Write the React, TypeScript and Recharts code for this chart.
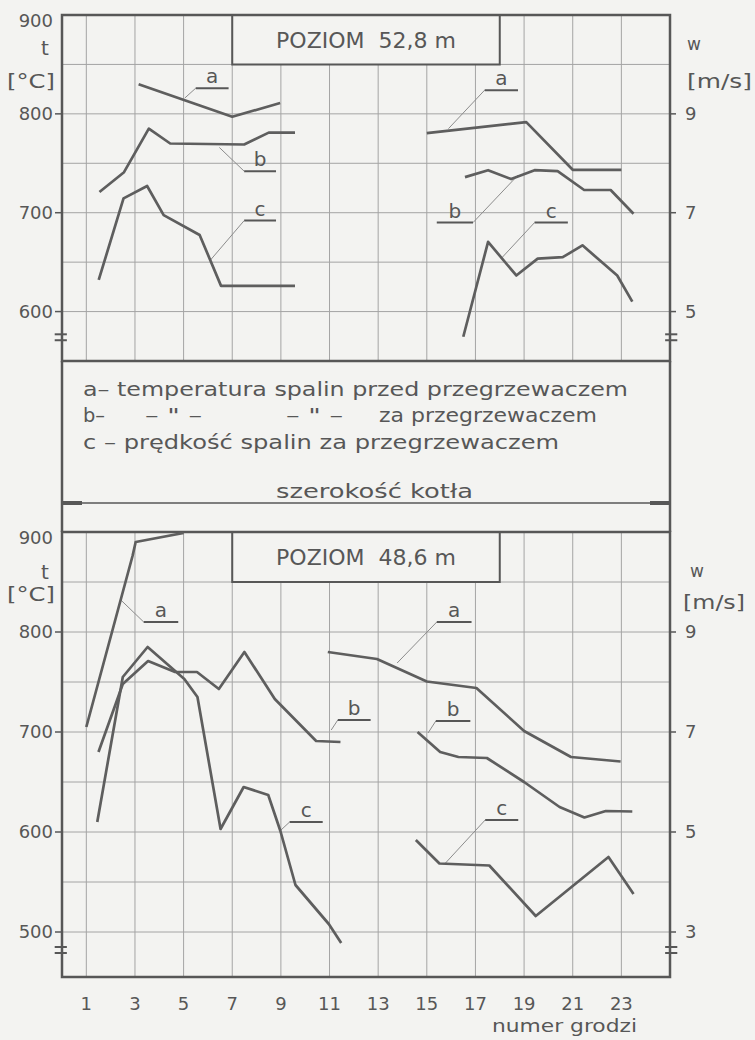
import React from "react";
import {
  CartesianGrid,
  Line,
  LineChart,
  ReferenceArea,
  ReferenceDot,
  ReferenceLine,
  XAxis,
  YAxis,
} from "recharts";

type Pt = [number, number];

const BG = "#f3f3f1";
const INK = "#575757";
const CURVE = "#5e5e5e";
const GRID = "#a4a4a4";
const FONT = "'DejaVu Sans', sans-serif";

const X_DOMAIN: [number, number] = [0, 25];
const X_TICKS = [1, 3, 5, 7, 9, 11, 13, 15, 17, 19, 21, 23];

// poziom 52,8 m: a, b in °C (left axis), c in m/s (right axis)
const TOP_T_TICKS = [600, 650, 700, 750, 800, 850, 900];
const TOP_W_TICKS = [5, 7, 9];
const topA1: Pt[] = [[3.15, 830], [7.0, 797], [8.97, 811]];
const topB1: Pt[] = [[1.54, 721], [2.55, 741], [3.57, 785], [4.45, 770], [7.49, 769], [8.5, 781], [9.58, 781]];
const topC1: Pt[] = [[1.51, 5.64], [2.53, 7.29], [3.5, 7.54], [4.18, 6.95], [5.66, 6.55], [6.54, 5.52], [9.58, 5.52]];
const topA2: Pt[] = [[15.0, 780.5], [19.09, 791.6], [21.0, 743.4], [23.0, 743.4]];
const topB2: Pt[] = [[16.57, 736], [17.52, 743], [18.47, 734], [19.43, 743], [20.38, 742], [21.47, 723], [22.56, 723], [23.5, 699]];
const topC2: Pt[] = [[16.5, 4.49], [17.52, 6.41], [18.68, 5.73], [19.56, 6.07], [20.59, 6.1], [21.4, 6.34], [22.83, 5.73], [23.45, 5.2]];

// poziom 48,6 m
const BOT_T_TICKS = [500, 550, 600, 650, 700, 750, 800, 850, 900];
const BOT_W_TICKS = [3, 5, 7, 9];
const botA1: Pt[] = [[1.0, 705], [2.9, 876], [3.03, 890], [5.0, 899]];
const botB1: Pt[] = [[1.5, 680], [2.5, 748], [3.54, 771], [4.65, 760], [5.55, 760], [6.45, 743], [7.5, 780], [8.75, 733], [10.45, 691], [11.45, 690]];
const botC1: Pt[] = [[1.45, 5.2], [2.5, 8.1], [3.52, 8.7], [5.03, 8.06], [5.57, 7.7], [6.52, 5.06], [7.47, 5.9], [8.48, 5.74], [8.98, 5.02], [9.6, 3.94], [10.97, 3.16], [11.48, 2.78]];
const botA2: Pt[] = [[10.93, 780], [12.95, 773], [15.0, 750.5], [17.04, 744], [19.0, 701], [20.93, 675], [22.97, 670.5]];
const botB2: Pt[] = [[14.62, 700], [15.55, 680], [16.3, 675], [17.47, 674], [19.0, 650], [20.46, 625], [21.48, 614.5], [22.36, 621], [23.45, 620.5]];
const botC2: Pt[] = [[14.55, 4.84], [15.52, 4.37], [17.57, 4.33], [19.48, 3.32], [22.47, 4.5], [23.5, 3.76]];

type Note = { label: string; lead: [Pt, Pt]; under: [number, number, number] };

const topNotes: Note[] = [
  { label: "a", lead: [[5.05, 816], [5.5, 826]], under: [5.5, 6.85, 826] },
  { label: "b", lead: [[6.47, 766], [7.49, 742]], under: [7.49, 8.8, 742] },
  { label: "c", lead: [[6.1, 652], [7.49, 692]], under: [7.49, 8.8, 692] },
  { label: "a", lead: [[15.89, 785], [17.38, 824]], under: [17.38, 18.75, 824] },
  { label: "b", lead: [[16.9, 690], [18.75, 738]], under: [15.41, 16.9, 690] },
  { label: "c", lead: [[18.07, 654], [19.43, 690]], under: [19.43, 20.8, 690] },
];

const botNotes: Note[] = [
  { label: "a", lead: [[2.42, 832], [3.36, 810]], under: [3.36, 4.78, 810] },
  { label: "b", lead: [[11.07, 702], [11.34, 712]], under: [11.34, 12.69, 712] },
  { label: "c", lead: [[8.96, 601], [9.36, 610]], under: [9.36, 10.72, 610] },
  { label: "a", lead: [[13.78, 769], [15.41, 810]], under: [15.41, 16.84, 810] },
  { label: "b", lead: [[15.05, 699], [15.37, 711]], under: [15.37, 16.79, 711] },
  { label: "c", lead: [[15.77, 569], [17.4, 612]], under: [17.4, 18.76, 612] },
];

const LEGEND = [
  { text: "a– temperatura spalin przed przegrzewaczem", x: 83, y: 396, w: 545 },
  { text: "b–", x: 83, y: 422, w: 22 },
  { text: "– \" –", x: 145, y: 422, w: 57 },
  { text: "– \" –", x: 286, y: 422, w: 57 },
  { text: "za przegrzewaczem", x: 379, y: 422, w: 218 },
  { text: "c – prędkość spalin za przegrzewaczem", x: 83, y: 449, w: 476 },
  { text: "szerokość kotła", x: 276, y: 498, w: 197 },
];

const toXY = (pts: Pt[]) => pts.map(([x, y]) => ({ x, y }));

function EmptyTick() {
  return <g />;
}

function LeftTick(props: any) {
  const { x, y, payload } = props;
  const v = payload.value as number;
  if (v % 100 !== 0) return <g />;
  const top = v === 900;
  return (
    <g>
      {!top && <line x1={x - 7} x2={x} y1={y} y2={y} stroke={INK} strokeWidth={1.5} />}
      <text x={x - 9} y={y + (top ? 6 : 0)} dy="0.36em" textAnchor="end" fontSize={18} fill={INK} fontFamily={FONT}>
        {v}
      </text>
    </g>
  );
}

function RightTick(props: any) {
  const { x, y, payload } = props;
  return (
    <g>
      <line x1={x} x2={x + 6} y1={y} y2={y} stroke={INK} strokeWidth={1.5} />
      <text x={x + 15} y={y} dy="0.36em" textAnchor="start" fontSize={18} fill={INK} fontFamily={FONT}>
        {payload.value}
      </text>
    </g>
  );
}

type Series = { pts: Pt[]; axis: "t" | "w" };

type PanelProps = {
  title: string;
  height: number;
  marginTop: number;
  marginBottom: number;
  tDomain: [number, number];
  wDomain: [number, number];
  tTicks: number[];
  wTicks: number[];
  series: Series[];
  notes: Note[];
  breaks: number[];
  showX: boolean;
};

function Panel(p: PanelProps) {
  return (
    <LineChart
      width={755}
      height={p.height}
      margin={{ top: p.marginTop, right: 0, bottom: p.marginBottom, left: 0 }}
    >
      <CartesianGrid stroke={GRID} strokeWidth={1} />
      <XAxis
        dataKey="x"
        type="number"
        domain={X_DOMAIN}
        ticks={X_TICKS}
        interval={0}
        allowDataOverflow
        height={p.showX ? 63 : 1}
        tick={p.showX ? { fontSize: 18, fill: INK, fontFamily: FONT } : EmptyTick}
        tickSize={0}
        tickMargin={20}
        tickLine={false}
        axisLine={false}
      />
      <YAxis
        type="number"
        domain={p.tDomain}
        ticks={p.tTicks}
        interval={0}
        allowDataOverflow
        width={62}
        tickSize={0}
        tickMargin={0}
        tickLine={false}
        axisLine={false}
        tick={LeftTick}
      />
      <YAxis
        yAxisId="w"
        orientation="right"
        type="number"
        domain={p.wDomain}
        ticks={p.wTicks}
        interval={0}
        allowDataOverflow
        width={85}
        tickSize={0}
        tickMargin={0}
        tickLine={false}
        axisLine={false}
        tick={RightTick}
      />
      <ReferenceArea
        x1={7}
        x2={18}
        y1={850}
        y2={900}
        fill={BG}
        fillOpacity={1}
        stroke={INK}
        strokeWidth={2}
        label={{ value: p.title, position: "center", fontSize: 22, fill: INK, fontFamily: FONT }}
      />
      <ReferenceArea
        x1={X_DOMAIN[0]}
        x2={X_DOMAIN[1]}
        y1={p.tDomain[0]}
        y2={p.tDomain[1]}
        fill="none"
        fillOpacity={0}
        stroke={INK}
        strokeWidth={2.5}
      />
      {p.breaks.map((t, i) => (
        <React.Fragment key={"br" + i}>
          <ReferenceLine segment={[{ x: -0.3, y: t }, { x: 0.2, y: t }]} stroke={INK} strokeWidth={2} ifOverflow="visible" />
          <ReferenceLine segment={[{ x: 24.8, y: t }, { x: 25.3, y: t }]} stroke={INK} strokeWidth={2} ifOverflow="visible" />
        </React.Fragment>
      ))}
      {p.notes.map((n, i) => (
        <React.Fragment key={"n" + i}>
          <ReferenceLine
            segment={[{ x: n.lead[0][0], y: n.lead[0][1] }, { x: n.lead[1][0], y: n.lead[1][1] }]}
            stroke="#8c8c8c"
            strokeWidth={1}
          />
          <ReferenceLine
            segment={[{ x: n.under[0], y: n.under[2] }, { x: n.under[1], y: n.under[2] }]}
            stroke={INK}
            strokeWidth={2}
          />
          <ReferenceDot
            x={(n.under[0] + n.under[1]) / 2}
            y={n.under[2]}
            r={0}
            fill="none"
            stroke="none"
            label={{ value: n.label, position: "top", offset: 5, fontSize: 20, fill: INK, fontFamily: FONT }}
          />
        </React.Fragment>
      ))}
      {p.series.map((s, i) => (
        <Line
          key={"s" + i}
          data={toXY(s.pts)}
          dataKey="y"
          yAxisId={s.axis === "w" ? "w" : 0}
          type="linear"
          stroke={CURVE}
          strokeWidth={2.7}
          strokeLinejoin="round"
          dot={false}
          activeDot={false}
          isAnimationActive={false}
        />
      ))}
    </LineChart>
  );
}

function Txt(props: { x: number; y: number; w?: number; size?: number; anchor?: "start" | "middle" | "end"; children: React.ReactNode }) {
  return (
    <text
      x={props.x}
      y={props.y}
      fontSize={props.size ?? 20}
      fill={INK}
      fontFamily={FONT}
      textAnchor={props.anchor ?? "start"}
      textLength={props.w}
      lengthAdjust={props.w ? "spacingAndGlyphs" : undefined}
    >
      {props.children}
    </text>
  );
}

export default function App() {
  return (
    <div style={{ position: "relative", width: 755, height: 1040, background: BG, overflow: "hidden" }}>
      <style>{"body{margin:0}"}</style>
      <div style={{ position: "absolute", left: 0, top: 0 }}>
        <Panel
          title={"POZIOM\u00a0\u00a052,8 m"}
          height={380}
          marginTop={15}
          marginBottom={18}
          tDomain={[550, 900]}
          wDomain={[4, 11]}
          tTicks={TOP_T_TICKS}
          wTicks={TOP_W_TICKS}
          series={[
            { pts: topA1, axis: "t" },
            { pts: topB1, axis: "t" },
            { pts: topC1, axis: "w" },
            { pts: topA2, axis: "t" },
            { pts: topB2, axis: "t" },
            { pts: topC2, axis: "w" },
          ]}
          notes={topNotes}
          breaks={[577, 571]}
          showX={false}
        />
      </div>
      <div style={{ position: "absolute", left: 0, top: 500 }}>
        <Panel
          title={"POZIOM\u00a0\u00a048,6 m"}
          height={540}
          marginTop={32}
          marginBottom={0}
          tDomain={[455, 900]}
          wDomain={[2.1, 11]}
          tTicks={BOT_T_TICKS}
          wTicks={BOT_W_TICKS}
          series={[
            { pts: botA1, axis: "t" },
            { pts: botB1, axis: "t" },
            { pts: botC1, axis: "w" },
            { pts: botA2, axis: "t" },
            { pts: botB2, axis: "t" },
            { pts: botC2, axis: "w" },
          ]}
          notes={botNotes}
          breaks={[485, 479]}
          showX={true}
        />
      </div>
      <svg width={755} height={1040} style={{ position: "absolute", left: 0, top: 0, pointerEvents: "none" }}>
        <line x1={62} x2={62} y1={361} y2={532} stroke={INK} strokeWidth={2.5} />
        <line x1={670} x2={670} y1={361} y2={532} stroke={INK} strokeWidth={2.5} />
        <line x1={62} x2={670} y1={503} y2={503} stroke={INK} strokeWidth={1.5} />
        <line x1={62} x2={82} y1={503} y2={503} stroke={INK} strokeWidth={4} />
        <line x1={650} x2={670} y1={503} y2={503} stroke={INK} strokeWidth={4} />
        {LEGEND.map((l, i) => (
          <Txt key={i} x={l.x} y={l.y} w={l.w}>
            {l.text}
          </Txt>
        ))}
        <Txt x={45} y={55} anchor="middle">t</Txt>
        <Txt x={7} y={88} w={48}>[°C]</Txt>
        <Txt x={694} y={50} size={17} anchor="middle">w</Txt>
        <Txt x={687} y={88} w={65}>[m/s]</Txt>
        <Txt x={45} y={579} anchor="middle">t</Txt>
        <Txt x={7} y={601} w={48}>[°C]</Txt>
        <Txt x={697} y={577} size={17} anchor="middle">w</Txt>
        <Txt x={683} y={609} w={62}>[m/s]</Txt>
        <Txt x={492} y={1032} w={145} size={18}>numer grodzi</Txt>
      </svg>
    </div>
  );
}
